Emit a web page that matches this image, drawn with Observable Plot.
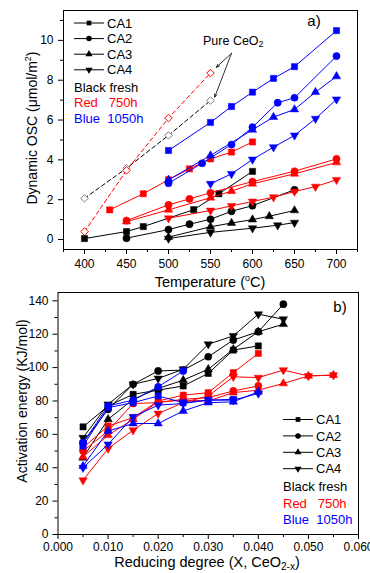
<!DOCTYPE html>
<html><head><meta charset="utf-8">
<script src="https://cdn.jsdelivr.net/npm/d3@7"></script>
<script src="https://cdn.jsdelivr.net/npm/@observablehq/plot@0.6"></script>
<style>
body{margin:0;background:#fff;}
#chart{width:370px;}
svg{display:block;}
</style></head><body><div id="chart"></div>
<script>
const FONT = "'Liberation Sans', Arial, Helvetica, sans-serif";

// ---------- Panel a: Dynamic OSC (µmol/m²) vs Temperature (°C) ----------
const osc_fresh_CA1 = [[400,0.05],[450,0.4],[470,0.65],[530,1.5],[560,2.3],[600,3.42]];
const osc_fresh_CA2 = [[450,0.07],[500,0.5],[525,0.77],[550,1.02],[575,1.42],[600,1.7],[650,2.5]];
const osc_fresh_CA3 = [[500,0.12],[550,0.64],[575,0.83],[600,1.0],[620,1.17],[650,1.46]];
const osc_fresh_CA4 = [[500,0.05],[550,0.36],[600,0.57],[630,0.72],[650,0.85]];
const osc_750_CA1 = [[430,1.49],[470,2.3],[500,3.0],[525,3.55],[550,4.05],[575,4.39],[600,4.9]];
const osc_750_CA2 = [[450,0.95],[500,1.74],[525,2.04],[550,2.35],[600,2.91],[650,3.43],[700,4.05]];
const osc_750_CA3 = [[450,0.9],[500,1.49],[550,2.1],[575,2.43],[600,2.8],[650,3.3],[700,3.87]];
const osc_750_CA4 = [[500,1.07],[550,1.46],[575,1.69],[600,1.91],[625,2.13],[650,2.41],[675,2.66],[700,3.0]];
const osc_1050_CA1 = [[500,4.47],[550,5.88],[575,6.68],[600,7.4],[625,8.09],[650,8.68],[700,10.49]];
const osc_1050_CA2 = [[500,2.83],[540,3.83],[575,4.77],[600,5.64],[630,6.87],[650,7.12],[700,9.21]];
const osc_1050_CA3 = [[500,3.0],[550,4.22],[600,5.51],[625,6.15],[650,6.53],[675,7.4],[700,8.19]];
const osc_1050_CA4 = [[550,2.8],[575,3.3],[600,4.02],[625,4.64],[650,5.23],[675,6.07],[700,7.04]];
const osc_pure_fresh = [[400,2.07],[450,3.58],[500,5.23],[550,6.98]];
const osc_pure_750 = [[400,0.4],[450,3.47],[500,6.1],[550,8.36]];
const pureArrowFrom = [575, 9.35];
const pureArrowTo = [[557, 8.65], [555, 7.15]];

const tempTicks = [400,450,500,550,600,650,700];
const tempMinor = [375,425,475,525,575,625,675,725];
const oscTicks = [0,2,4,6,8,10];
const oscMinor = [1,3,5,7,9,11];

// ---------- Panel b: Activation energy (KJ/mol) vs reducing degree ----------
const act_fresh_CA1 = [[0.005,64.5],[0.01,77],[0.015,84],[0.02,86.5],[0.025,89],[0.03,96.5],[0.035,110.5],[0.04,113]];
const act_fresh_CA2 = [[0.005,55],[0.01,75],[0.015,90],[0.02,98],[0.025,98.5],[0.03,106.5],[0.035,116.5],[0.04,121.5],[0.045,138]];
const act_fresh_CA3 = [[0.005,46],[0.01,69],[0.015,81],[0.02,87.5],[0.025,92.5],[0.03,99],[0.035,111],[0.04,121.5],[0.045,126]];
const act_fresh_CA4 = [[0.005,58],[0.01,78],[0.015,90],[0.02,93.5],[0.025,99],[0.03,114],[0.035,119],[0.04,132],[0.045,129]];
const act_750_CA1 = [[0.005,52],[0.01,65],[0.015,70],[0.02,80],[0.025,83.5],[0.03,85],[0.035,97],[0.04,108.5]];
const act_750_CA2 = [[0.005,50],[0.01,62],[0.015,78.5],[0.02,79],[0.025,81],[0.03,82],[0.035,86],[0.04,89]];
const act_750_CA3 = [[0.005,46.5],[0.01,59.5],[0.015,69],[0.02,79.5],[0.025,80.5],[0.03,80],[0.035,85],[0.04,86.5],[0.045,90.5],[0.05,95],[0.055,95.5]];
const act_750_CA4 = [[0.005,32.5],[0.01,51.5],[0.015,62.5],[0.02,72.5],[0.025,79],[0.03,83],[0.035,94.5],[0.04,94],[0.045,98.5],[0.05,95],[0.055,95.5]];
const act_1050_CA1 = [[0.005,53],[0.01,76],[0.015,79],[0.02,83],[0.025,79],[0.03,80.5],[0.035,81]];
const act_1050_CA2 = [[0.005,55],[0.01,77],[0.015,80.5],[0.02,88.5],[0.025,98]];
const act_1050_CA3 = [[0.005,41],[0.01,62],[0.015,66.5],[0.02,66.5],[0.025,74],[0.03,79],[0.035,79.5],[0.04,85.5]];
const act_1050_CA4 = [[0.005,40],[0.01,54],[0.015,70.5],[0.02,77.5],[0.025,78.5],[0.03,80.5],[0.035,80.5],[0.04,84.5]];

const degTicks = [0,0.01,0.02,0.03,0.04,0.05,0.06];
const degMinor = [0.005,0.015,0.025,0.035,0.045,0.055];
const actTicks = [0,20,40,60,80,100,120,140];
const actMinor = [10,30,50,70,90,110,130];

const compounds = ["CA1","CA2","CA3","CA4"];
const legendAges = [["Black fresh","#000000"],["Red   750h","#ff0000"],["Blue  1050h","#0000ff"]];

// ---------- helpers ----------
const triangleDown = {
  draw(context, size) {
    const y = Math.sqrt(size / (Math.sqrt(3) * 3));
    context.moveTo(0, y * 2);
    context.lineTo(-Math.sqrt(3) * y, -y);
    context.lineTo(Math.sqrt(3) * y, -y);
    context.closePath();
  }
};
const symbolOf = {CA1: "square", CA2: "circle", CA3: "triangle", CA4: triangleDown};
const rOf = {CA1: 3.5, CA2: 3.6, CA3: 3.1, CA4: 3.1};
const d3SymOf = {CA1: d3.symbolSquare, CA2: d3.symbolCircle, CA3: d3.symbolTriangle, CA4: triangleDown};

const toRows = arr => arr.map(([x, y]) => ({x, y}));

function seriesMarks(arr, cmp, color) {
  const rows = toRows(arr);
  return [
    Plot.line(rows, {x: "x", y: "y", stroke: color, strokeWidth: 1}),
    Plot.dot(rows, {x: "x", y: "y", symbol: symbolOf[cmp], r: rOf[cmp], fill: color, stroke: color, strokeWidth: 0.5})
  ];
}

function axes(xt, xm, yt, ym, xpad, ypad) {
  return [
    Plot.axisX({ticks: xt, tickSize: 5, tickPadding: xpad, label: null, fontSize: 12}),
    Plot.axisX({ticks: xm, tickSize: 3, tickFormat: () => "", label: null}),
    Plot.axisY({ticks: yt, tickSize: 5, tickPadding: ypad, label: null, fontSize: 12}),
    Plot.axisY({ticks: ym, tickSize: 3, tickFormat: () => "", label: null})
  ];
}

function drawLegend(svg, x0, y0, dy) {
  const g = d3.select(svg).append("g").attr("font-family", FONT).attr("font-size", 13)
    .attr("text-anchor", "start");
  compounds.forEach((c, i) => {
    const y = y0 + i * dy;
    g.append("line").attr("x1", x0).attr("x2", x0 + 30).attr("y1", y).attr("y2", y)
      .attr("stroke", "#000").attr("stroke-width", 1);
    g.append("path").attr("d", d3.symbol().type(d3SymOf[c]).size(c === "CA2" ? 24 : 22)())
      .attr("transform", `translate(${x0 + 15},${y})`).attr("fill", "#000");
    g.append("text").attr("x", x0 + 33).attr("y", y).attr("dy", "0.36em").text(c);
  });
  legendAges.forEach(([label, col], j) => {
    const y = y0 + (4 + j) * dy + 1.5;
    g.append("text").attr("x", x0).attr("y", y).attr("dy", "0.36em").attr("fill", col)
      .style("white-space", "pre").text(label);
  });
}

const style = {fontFamily: FONT, fontSize: "12px", color: "#000", background: "#fff", overflow: "visible"};

// ---------- Panel a ----------
const markSetA = [
  [osc_fresh_CA1, "CA1", "#000000"], [osc_fresh_CA2, "CA2", "#000000"], [osc_fresh_CA3, "CA3", "#000000"], [osc_fresh_CA4, "CA4", "#000000"],
  [osc_750_CA1, "CA1", "#ff0000"], [osc_750_CA2, "CA2", "#ff0000"], [osc_750_CA3, "CA3", "#ff0000"], [osc_750_CA4, "CA4", "#ff0000"],
  [osc_1050_CA1, "CA1", "#0000ff"], [osc_1050_CA2, "CA2", "#0000ff"], [osc_1050_CA3, "CA3", "#0000ff"], [osc_1050_CA4, "CA4", "#0000ff"]
];
const pureRowsBlack = toRows(osc_pure_fresh);
const pureRowsRed = toRows(osc_pure_750);
const arrowRows = pureArrowTo.map(([x2, y2]) => ({x1: pureArrowFrom[0], y1: pureArrowFrom[1], x2, y2}));

const plotA = Plot.plot({
  width: 370, height: 290,
  marginLeft: 63, marginRight: 13, marginTop: 10, marginBottom: 41,
  x: {domain: [375, 725]},
  y: {domain: [-0.5, 11.5]},
  style,
  marks: [
    Plot.frame({stroke: "#000", strokeWidth: 1}),
    ...axes(tempTicks, tempMinor, oscTicks, oscMinor, 5, 5),
    Plot.line(pureRowsBlack, {x: "x", y: "y", stroke: "#000", strokeWidth: 1, strokeDasharray: "4,3"}),
    Plot.line(pureRowsRed, {x: "x", y: "y", stroke: "#ff0000", strokeWidth: 1, strokeDasharray: "4,3"}),
    Plot.dot(pureRowsBlack, {x: "x", y: "y", symbol: "diamond2", r: 3.4, fill: "#fff", stroke: "#808080", strokeWidth: 1}),
    Plot.dot(pureRowsRed, {x: "x", y: "y", symbol: "diamond2", r: 3.4, fill: "#fff", stroke: "#ff0000", strokeWidth: 1}),
    ...markSetA.flatMap(([arr, c, col]) => seriesMarks(arr, c, col)),
    Plot.arrow(arrowRows, {x1: "x1", y1: "y1", x2: "x2", y2: "y2", stroke: "#000", strokeWidth: 0.8, headLength: 6, headAngle: 45})
  ]
});
{
  const s = d3.select(plotA);
  s.append("text").attr("x", 210).attr("y", 287).attr("text-anchor", "middle")
    .attr("font-family", FONT).attr("font-size", 14.5)
    .call(t => { t.append("tspan").text("Temperature ("); t.append("tspan").attr("font-size", 9).attr("dy", -6).text("o"); t.append("tspan").attr("dy", 6).text("C)"); });
  s.append("text").attr("transform", "translate(37,128) rotate(-90)").attr("text-anchor", "middle")
    .attr("font-family", FONT).attr("font-size", 14)
    .call(t => { t.append("tspan").text("Dynamic OSC (\u03BCmol/m"); t.append("tspan").attr("font-size", 9).attr("dy", -6).text("2"); t.append("tspan").attr("dy", 6).text(")"); });
  s.append("text").attr("x", 314).attr("y", 26).attr("text-anchor", "middle")
    .attr("font-family", FONT).attr("font-size", 15).text("a)");
  s.append("text").attr("x", 203).attr("y", 45).attr("text-anchor", "start")
    .attr("font-family", FONT).attr("font-size", 12.5)
    .call(t => { t.append("tspan").text("Pure CeO"); t.append("tspan").attr("font-size", 9).attr("dy", 2).text("2"); });
  drawLegend(plotA, 74, 23, 15.6);
}

// ---------- Panel b ----------
const markSetB = [
  [act_fresh_CA1, "CA1", "#000000"], [act_fresh_CA2, "CA2", "#000000"], [act_fresh_CA3, "CA3", "#000000"], [act_fresh_CA4, "CA4", "#000000"],
  [act_750_CA1, "CA1", "#ff0000"], [act_750_CA2, "CA2", "#ff0000"], [act_750_CA3, "CA3", "#ff0000"], [act_750_CA4, "CA4", "#ff0000"],
  [act_1050_CA1, "CA1", "#0000ff"], [act_1050_CA2, "CA2", "#0000ff"], [act_1050_CA3, "CA3", "#0000ff"], [act_1050_CA4, "CA4", "#0000ff"]
];
const plotB = Plot.plot({
  width: 370, height: 283,
  marginLeft: 57.5, marginRight: 12, marginTop: 2, marginBottom: 39,
  x: {domain: [0, 0.06]},
  y: {domain: [0, 145]},
  style,
  marks: [
    Plot.frame({stroke: "#000", strokeWidth: 1}),
    ...axes(degTicks, degMinor, actTicks, actMinor, 3, 4.5),
    ...markSetB.flatMap(([arr, c, col]) => seriesMarks(arr, c, col))
  ]
});
{
  const s = d3.select(plotB);
  s.append("text").attr("x", 207).attr("y", 276.5).attr("text-anchor", "middle")
    .attr("font-family", FONT).attr("font-size", 14.5)
    .call(t => { t.append("tspan").text("Reducing degree (X, CeO"); t.append("tspan").attr("font-size", 10).attr("dy", 3).text("2-x"); t.append("tspan").attr("dy", -3).text(")"); });
  s.append("text").attr("transform", "translate(27,111) rotate(-90)").attr("text-anchor", "middle")
    .attr("font-family", FONT).attr("font-size", 14).text("Activation energy (KJ/mol)");
  s.append("text").attr("x", 340).attr("y", 22).attr("text-anchor", "middle")
    .attr("font-family", FONT).attr("font-size", 15).text("b)");
  drawLegend(plotB, 283, 129.5, 16.4);
}

const chart = document.getElementById("chart");
chart.appendChild(plotA);
chart.appendChild(plotB);
</script>
</body></html>
